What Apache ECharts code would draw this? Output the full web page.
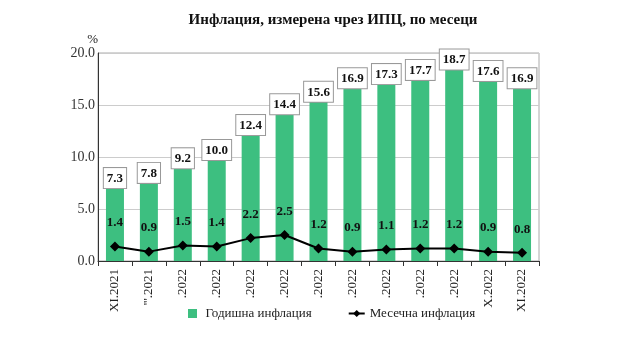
<!DOCTYPE html>
<html><head><meta charset="utf-8">
<script src="https://cdn.jsdelivr.net/npm/echarts@6/dist/echarts.min.js"></script>
<style>html,body{margin:0;padding:0;background:#fff}#c{width:640px;height:360px}</style>
</head><body><div id="c"></div>
<script>
var categories = ["XI.2021","XII.2021","I.2022","II.2022","III.2022","IV.2022","V.2022","VI.2022","VII.2022","VIII.2022","IX.2022","X.2022","XI.2022"];
var tickLabels = ["XI.2021","'''.2021",".2022",".2022",".2022",".2022",".2022",".2022",".2022",".2022",".2022","X.2022","XI.2022"];
var annual = [7.3,7.8,9.2,10.0,12.4,14.4,15.6,16.9,17.3,17.7,18.7,17.6,16.9];
var monthly = [1.4,0.9,1.5,1.4,2.2,2.5,1.2,0.9,1.1,1.2,1.2,0.9,0.8];
var yTicks = [0,5,10,15,20];

var F = '"Liberation Serif","DejaVu Serif",serif';
var chart = echarts.init(document.getElementById('c'));
chart.setOption({
  animation:false,
  title:{text:'Инфлация, измерена чрез ИПЦ, по месеци',left:328,textAlign:'center',top:8,
    textStyle:{fontFamily:F,fontSize:15,fontWeight:'bold',color:'#111'}},
  grid:{left:98,right:101,top:53,bottom:99,show:true,borderColor:'#aaa',borderWidth:1},
  legend:{bottom:35,left:183,itemGap:36,itemWidth:16,itemHeight:9,
    textStyle:{fontFamily:F,fontSize:13,color:'#222'},
    data:[{name:'Годишна инфлация',icon:'path://M0,0h10v10h-10z'},{name:'Месечна инфлация'}]},
  xAxis:{type:'category',data:categories,
    axisLine:{lineStyle:{color:'#333'}},
    axisTick:{show:true,alignWithLabel:false,lineStyle:{color:'#333'}},
    axisLabel:{rotate:90,interval:0,fontFamily:F,fontSize:13,color:'#222',margin:8,
      formatter:function(v,i){return tickLabels[i];}}},
  yAxis:{type:'value',min:yTicks[0],max:yTicks[yTicks.length-1],interval:5,
    name:'%',nameLocation:'end',nameGap:4,nameTextStyle:{fontFamily:F,fontSize:13,color:'#222',align:'right'},
    axisLine:{show:true,lineStyle:{color:'#333'}},
    axisTick:{show:false},
    splitLine:{lineStyle:{color:'#ccc'}},
    axisLabel:{fontFamily:F,fontSize:14,color:'#333',margin:3,formatter:function(v){return v.toFixed(1);}}},
  series:[
    {name:'Годишна инфлация',type:'bar',data:annual,barWidth:18,
      itemStyle:{color:'#3dbf80'},
      label:{show:true,position:'top',distance:-3,formatter:function(p){return p.value.toFixed(1);},
        fontFamily:F,fontSize:13,fontWeight:'bold',color:'#111',
        backgroundColor:'#fff',borderColor:'#999',borderWidth:1,padding:[4,3,3,3]}},
    {name:'Месечна инфлация',type:'line',data:monthly,
      symbol:'diamond',symbolSize:10,
      lineStyle:{color:'#000',width:2},itemStyle:{color:'#000'},
      label:{show:true,position:'top',distance:12,formatter:function(p){return p.value.toFixed(1);},
        fontFamily:F,fontSize:13,fontWeight:'bold',color:'#111'}}
  ]
});
</script></body></html>
